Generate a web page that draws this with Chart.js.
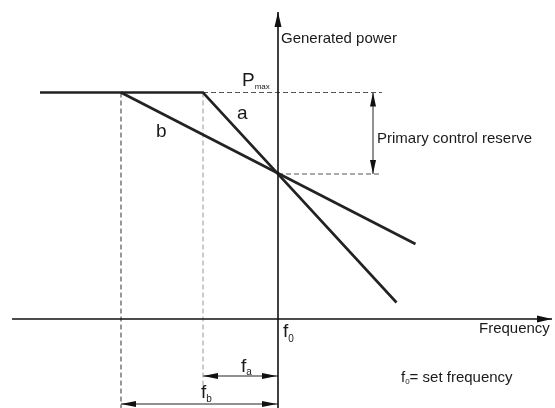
<!DOCTYPE html>
<html>
<head>
<meta charset="utf-8">
<script src="https://cdn.jsdelivr.net/npm/chart.js@4/dist/chart.umd.min.js"></script>
<style>
    html, body { margin: 0; padding: 0; background: #fff; }
    #wrap { width: 555px; height: 408px; position: relative; }
</style>
</head>
<body>
<div id="wrap"><canvas id="droop"></canvas></div>
<script>
// droop characteristics, frequency relative to f0, power in arbitrary units
const curveAFreq = [-4.76, -1.50, 2.37];
const curveAPower = [4.53, 4.53, 0.33];
const curveBFreq = [-3.14, 2.75];
const curveBPower = [4.53, 1.50];
// reference levels: Pmax and the operating point at f0
const levelNames = ['Pmax', 'P0'];
const levelPowers = [4.53, 2.90];
// reference frequencies
const markNames = ['f0', 'fa', 'fb'];
const markFreqs = [0, -1.50, -3.14];
// axis extents
const axisFreq = [-5.32, 5.48];
const axisPower = [-1.78, 6.14];
const dashEnd = 2.08;
const reserveFreq = 1.9;
const spanPowers = [-1.14, -1.70];

const FONT = '"Liberation Sans", Arial, sans-serif';
const pts = (xs, ys) => xs.map((x, i) => ({ x: x, y: ys[i] }));
const pmax = levelPowers[0];
const p0 = levelPowers[1];

function line(data, color, width, dash) {
    return {
        data: data,
        showLine: true,
        borderColor: color,
        borderWidth: width,
        borderDash: dash || [],
        pointRadius: 0,
        fill: false,
        tension: 0
    };
}

const datasets = [
    line(pts(axisFreq, [0, 0]), '#111', 1.6),
    line(pts([0, 0], axisPower), '#111', 1.6),
    line(pts(curveAFreq, curveAPower), '#222', 2.6),
    line(pts(curveBFreq, curveBPower), '#222', 2.6),
    line(pts([markFreqs[1], dashEnd], [pmax, pmax]), '#555', 1, [5, 3]),
    line(pts([0, dashEnd], [p0, p0]), '#555', 1, [5, 3]),
    line(pts([markFreqs[2], markFreqs[2]], [pmax, axisPower[0]]), '#333', 1, [5, 3]),
    line(pts([markFreqs[1], markFreqs[1]], [pmax, -1.4]), '#999', 1, [5, 3]),
    line(pts([reserveFreq, reserveFreq], [p0, pmax]), '#222', 1),
    line(pts([markFreqs[1], 0], [spanPowers[0], spanPowers[0]]), '#222', 1),
    line(pts([markFreqs[2], 0], [spanPowers[1], spanPowers[1]]), '#222', 1)
];

function arrowHead(ctx, x, y, dx, dy, len, half) {
    // tip at (x, y), pointing in direction (dx, dy)
    ctx.beginPath();
    ctx.moveTo(x, y);
    ctx.lineTo(x - dx * len - dy * half, y - dy * len + dx * half);
    ctx.lineTo(x - dx * len + dy * half, y - dy * len - dx * half);
    ctx.closePath();
    ctx.fill();
}

function subText(ctx, main, sub, x, y, size, subSize, drop) {
    ctx.font = size + 'px ' + FONT;
    ctx.fillText(main, x, y);
    const w = ctx.measureText(main).width;
    ctx.font = subSize + 'px ' + FONT;
    ctx.fillText(sub, x + w, y + drop);
    return x + w + ctx.measureText(sub).width;
}

const annotations = {
    id: 'annotations',
    afterDatasetsDraw(chart) {
        const ctx = chart.ctx;
        const xs = chart.scales.x;
        const ys = chart.scales.y;
        const px = v => xs.getPixelForValue(v);
        const py = v => ys.getPixelForValue(v);
        ctx.save();
        ctx.fillStyle = '#111';
        // axis arrows
        arrowHead(ctx, px(0), py(axisPower[1]), 0, -1, 15, 3.5);
        arrowHead(ctx, px(axisFreq[1]), py(0), 1, 0, 15, 3.5);
        // reserve double arrow
        arrowHead(ctx, px(reserveFreq), py(pmax), 0, -1, 14, 3);
        arrowHead(ctx, px(reserveFreq), py(p0), 0, 1, 14, 3);
        // frequency spans
        spanPowers.forEach((p, i) => {
            arrowHead(ctx, px(markFreqs[i + 1]), py(p), -1, 0, 15, 3);
            arrowHead(ctx, px(0) - 1, py(p), 1, 0, 15, 3);
        });

        ctx.fillStyle = '#1a1a1a';
        ctx.textBaseline = 'alphabetic';
        ctx.textAlign = 'left';
        ctx.font = '15px ' + FONT;
        ctx.fillText('Generated power', px(0) + 3, 43);
        ctx.fillText('Frequency', 479, 333);
        ctx.fillText('Primary control reserve', px(reserveFreq) + 4, 143);
        ctx.font = '19px ' + FONT;
        ctx.fillText('a', 237, 119);
        ctx.fillText('b', 156, 137);
        subText(ctx, 'P', 'max', 242, 86, 19, 8, 3);
        subText(ctx, 'f', '0', px(0) + 5, 337, 19, 10, 5);
        subText(ctx, 'f', 'a', 241, 372, 19, 10, 3);
        subText(ctx, 'f', 'b', 201, 398, 19, 10, 4);
        const x2 = subText(ctx, 'f', '0', 401, 382, 15, 8, 2);
        ctx.font = '15px ' + FONT;
        ctx.fillText('= set frequency', x2, 382);
        ctx.restore();
    }
};

new Chart(document.getElementById('droop'), {
    type: 'scatter',
    data: { datasets: datasets },
    options: {
        responsive: true,
        maintainAspectRatio: false,
        animation: false,
        layout: { padding: 0 },
        plugins: {
            legend: { display: false },
            tooltip: { enabled: false }
        },
        scales: {
            x: { type: 'linear', display: false, min: -5.56, max: 5.54 },
            y: { type: 'linear', display: false, min: -1.78, max: 6.38 }
        }
    },
    plugins: [annotations]
});
</script>
</body>
</html>
